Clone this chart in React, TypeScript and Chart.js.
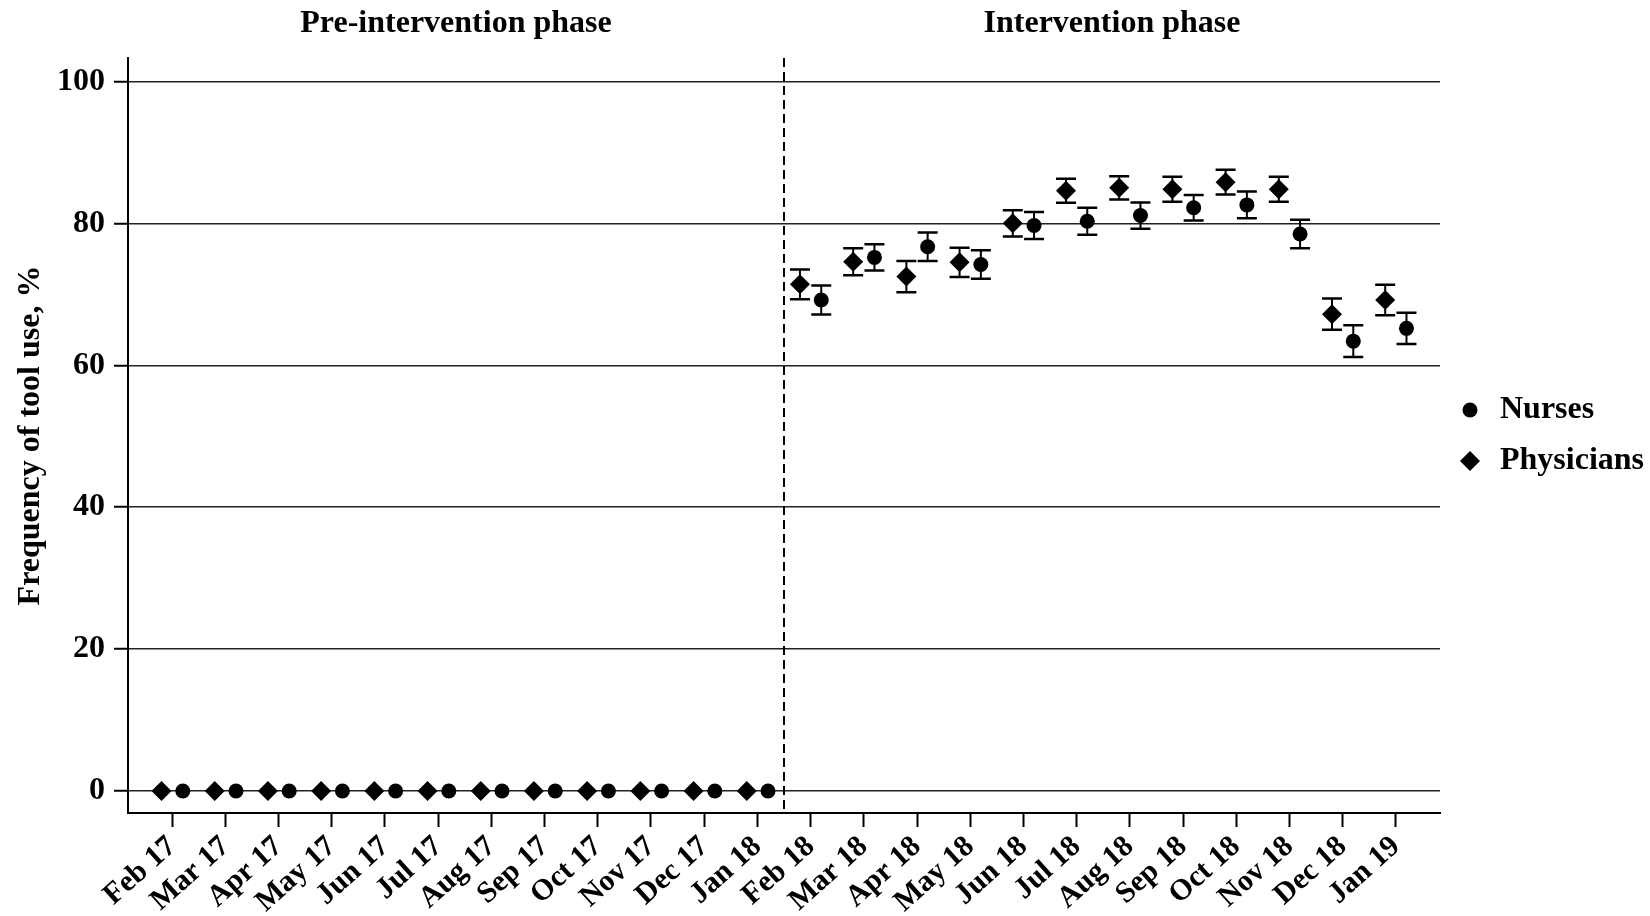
import React, { useEffect, useRef } from 'react';
import { Chart, registerables } from 'chart.js';

Chart.register(...registerables);

const months = [
  'Feb 17', 'Mar 17', 'Apr 17', 'May 17', 'Jun 17', 'Jul 17', 'Aug 17', 'Sep 17', 'Oct 17', 'Nov 17', 'Dec 17', 'Jan 18',
  'Feb 18', 'Mar 18', 'Apr 18', 'May 18', 'Jun 18', 'Jul 18', 'Aug 18', 'Sep 18', 'Oct 18', 'Nov 18', 'Dec 18', 'Jan 19',
];
const phaseTitles = ['Pre-intervention phase', 'Intervention phase'];
const phaseBoundary = 11.5;

const nurses = [0, 0, 0, 0, 0, 0, 0, 0, 0, 0, 0, 0, 69.2, 75.2, 76.7, 74.2, 79.7, 80.3, 81.1, 82.2, 82.6, 78.5, 63.4, 65.2];
const nursesErr = [0, 0, 0, 0, 0, 0, 0, 0, 0, 0, 0, 0, 2.05, 1.85, 2.0, 2.0, 1.9, 1.9, 1.85, 1.8, 1.9, 2.0, 2.25, 2.2];
const physicians = [0, 0, 0, 0, 0, 0, 0, 0, 0, 0, 0, 0, 71.4, 74.6, 72.5, 74.5, 80.0, 84.6, 85.0, 84.8, 85.8, 84.8, 67.2, 69.2];
const physiciansErr = [0, 0, 0, 0, 0, 0, 0, 0, 0, 0, 0, 0, 2.1, 1.9, 2.2, 2.05, 1.85, 1.7, 1.65, 1.75, 1.75, 1.75, 2.2, 2.15];
const yTicks = [0, 20, 40, 60, 80, 100];

const FONT = "'Liberation Serif', 'Times New Roman', serif";

const overlayPlugin = {
  id: 'overlay',
  afterDatasetsDraw(chart: any) {
    const { ctx, scales } = chart;
    const x = scales.x;
    const y = scales.y;
    ctx.save();
    ctx.strokeStyle = '#000';
    chart.data.datasets.forEach((ds: any) => {
      const errs: number[] = ds.errors || [];
      ds.data.forEach((p: any, i: number) => {
        const e = errs[i];
        if (!e) return;
        const px = x.getPixelForValue(p.x);
        const top = y.getPixelForValue(p.y + e);
        const bot = y.getPixelForValue(p.y - e);
        ctx.lineWidth = 2;
        ctx.beginPath();
        ctx.moveTo(px, top);
        ctx.lineTo(px, bot);
        ctx.stroke();
        ctx.lineWidth = 2.5;
        ctx.beginPath();
        ctx.moveTo(px - 10, top);
        ctx.lineTo(px + 10, top);
        ctx.moveTo(px - 10, bot);
        ctx.lineTo(px + 10, bot);
        ctx.stroke();
      });
    });
    ctx.restore();
  },
  afterDraw(chart: any) {
    const { ctx, chartArea, scales } = chart;
    const x = scales.x;
    const bx = x.getPixelForValue(phaseBoundary);
    ctx.save();
    // dashed phase divider
    ctx.strokeStyle = '#000';
    ctx.lineWidth = 2;
    ctx.setLineDash([9, 5]);
    ctx.beginPath();
    ctx.moveTo(bx, chartArea.top);
    ctx.lineTo(bx, chartArea.bottom);
    ctx.stroke();
    ctx.setLineDash([]);
    // phase titles
    ctx.fillStyle = '#000';
    ctx.font = `bold 32px ${FONT}`;
    ctx.textAlign = 'center';
    ctx.textBaseline = 'middle';
    ctx.fillText(phaseTitles[0], (chartArea.left + bx) / 2, 24);
    ctx.fillText(phaseTitles[1], (bx + chartArea.right) / 2, 24);
    // legend
    const lx = 1470;
    chart.data.datasets.forEach((ds: any, i: number) => {
      const ly = 410 + i * 51;
      ctx.beginPath();
      if (ds.pointStyle === 'circle') {
        ctx.arc(lx, ly, 7.5, 0, Math.PI * 2);
      } else {
        ctx.moveTo(lx - 10, ly);
        ctx.lineTo(lx, ly - 10);
        ctx.lineTo(lx + 10, ly);
        ctx.lineTo(lx, ly + 10);
        ctx.closePath();
      }
      ctx.fill();
      ctx.font = `bold 32px ${FONT}`;
      ctx.textAlign = 'left';
      ctx.textBaseline = 'middle';
      ctx.fillText(ds.label, 1500, ly);
    });
    ctx.restore();
  },
};

export default function App() {
  const canvasRef = useRef<HTMLCanvasElement | null>(null);

  useEffect(() => {
    if (!canvasRef.current) return;
    const chart = new Chart(canvasRef.current, {
      type: 'scatter',
      data: {
        datasets: [
          {
            label: 'Nurses',
            data: nurses.map((v, i) => ({ x: i + 0.2, y: v })),
            errors: nursesErr,
            pointStyle: 'circle',
            pointRadius: 7.5,
            pointHoverRadius: 7.5,
            backgroundColor: '#000',
            borderColor: '#000',
            borderWidth: 0,
          } as any,
          {
            label: 'Physicians',
            data: physicians.map((v, i) => ({ x: i - 0.2, y: v })),
            errors: physiciansErr,
            pointStyle: 'rectRot',
            pointRadius: 10,
            pointHoverRadius: 10,
            backgroundColor: '#000',
            borderColor: '#000',
            borderWidth: 0,
          } as any,
        ],
      },
      options: {
        animation: false,
        responsive: false,
        devicePixelRatio: 1,
        events: [],
        layout: { padding: { left: 0, top: 58, right: 210, bottom: 0 } },
        plugins: {
          legend: { display: false },
          tooltip: { enabled: false },
          title: { display: false },
        },
        scales: {
          x: {
            type: 'linear',
            min: -0.83,
            max: 23.83,
            afterBuildTicks: (scale: any) => {
              scale.ticks = months.map((_, i) => ({ value: i }));
            },
            afterFit: (scale: any) => {
              scale.height = 103;
            },
            grid: {
              display: true,
              drawOnChartArea: false,
              drawTicks: true,
              tickLength: 14,
              tickWidth: 2,
              tickColor: '#000',
            },
            border: { display: true, color: '#000', width: 2 },
            ticks: {
              autoSkip: false,
              minRotation: 42,
              maxRotation: 42,
              padding: 2,
              color: '#000',
              font: { family: FONT, size: 30, weight: 'bold' },
              callback: (v: any) => months[Math.round(Number(v))] ?? '',
            },
          },
          y: {
            type: 'linear',
            min: -3.1,
            max: 103.3,
            afterBuildTicks: (scale: any) => {
              scale.ticks = yTicks.map((v) => ({ value: v }));
            },
            afterFit: (scale: any) => {
              scale.width = 128;
            },
            grid: {
              display: true,
              drawOnChartArea: true,
              drawTicks: true,
              tickLength: 14,
              tickWidth: 2,
              tickColor: '#000',
              color: '#222',
              lineWidth: 1.5,
            },
            border: { display: true, color: '#000', width: 2 },
            ticks: {
              padding: 9,
              color: '#000',
              font: { family: FONT, size: 32, weight: 'bold' },
              callback: (v: any) => String(v),
            },
            title: {
              display: true,
              text: 'Frequency of tool use, %',
              color: '#000',
              font: { family: FONT, size: 32, weight: 'bold' },
              padding: { top: 12, bottom: 0 },
            },
          },
        },
      },
      plugins: [overlayPlugin],
    } as any);
    return () => chart.destroy();
  }, []);

  return (
    <div style={{ position: 'fixed', left: 0, top: 0, width: 1650, height: 916, background: '#fff' }}>
      <canvas ref={canvasRef} width={1650} height={916} style={{ width: 1650, height: 916, display: 'block' }} />
    </div>
  );
}
